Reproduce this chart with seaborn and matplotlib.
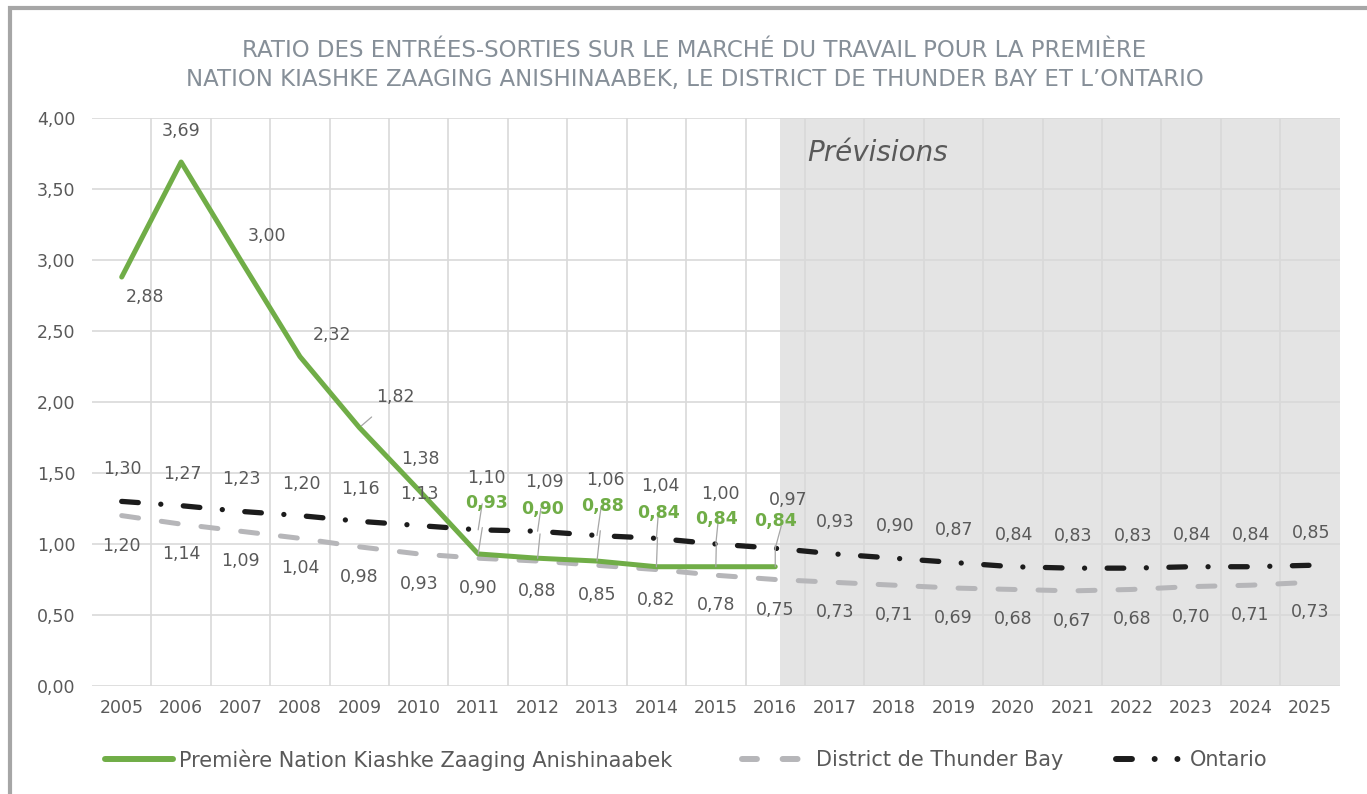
import matplotlib
matplotlib.use('Agg')
import matplotlib.pyplot as plt
import matplotlib.patches as mpatches
from matplotlib.lines import Line2D
from matplotlib.ticker import FuncFormatter, MultipleLocator
import seaborn as sns
import pandas as pd

# Données
years = list(range(2005, 2026))
kza = [2.88, 3.69, 3.00, 2.32, 1.82, 1.38, 0.93, 0.90, 0.88, 0.84, 0.84, 0.84]
thunder_bay = [1.20, 1.14, 1.09, 1.04, 0.98, 0.93, 0.90, 0.88, 0.85, 0.82, 0.78,
               0.75, 0.73, 0.71, 0.69, 0.68, 0.67, 0.68, 0.70, 0.71, 0.73]
ontario = [1.30, 1.27, 1.23, 1.20, 1.16, 1.13, 1.10, 1.09, 1.06, 1.04, 1.00,
           0.97, 0.93, 0.90, 0.87, 0.84, 0.83, 0.83, 0.84, 0.84, 0.85]
forecast_label_year = 2016

# Décalages des étiquettes (pixels)
kza_offsets = [(23, -20), (0, 31), (26, 24), (32, 22), (36, 31), (2, 31),
               (8, 51), (5, 49), (6, 55), (2, 54), (1, 48), (0, 46)]
ont_offsets = {2011: (8, 52), 2012: (7, 49), 2013: (8, 55), 2014: (4, 52),
               2015: (5, 50), 2016: (13, 48)}

GREEN = '#70AD47'
GRAY = '#b6b6b9'
BLACK = '#1c1c1c'
TXT = '#595959'

sns.set_style('white')
plt.rcParams['font.family'] = ['DejaVu Sans']

fig = plt.figure(figsize=(13.67, 7.94), dpi=100)
ax = fig.add_axes([0.0673, 0.136, 0.9127, 0.7154])

xi = [y - years[0] for y in years]
df_k = pd.DataFrame({'x': xi[:len(kza)], 'v': kza})
df_t = pd.DataFrame({'x': xi, 'v': thunder_bay})
df_o = pd.DataFrame({'x': xi, 'v': ontario})

# zone des prévisions
ax.axvspan(forecast_label_year - years[0] + 0.08, xi[-1] + 0.5, color='#e4e4e4', zorder=0, lw=0)

sns.lineplot(data=df_t, x='x', y='v', ax=ax, color=GRAY, lw=3.6,
             linestyle=(0, (3.4, 4.6)), dash_capstyle='round', zorder=3)
sns.lineplot(data=df_o, x='x', y='v', ax=ax, color=BLACK, lw=3.8,
             linestyle=(0, (3.15, 4.27, 0.01, 4.27)), dash_capstyle='round', zorder=4)
sns.lineplot(data=df_k, x='x', y='v', ax=ax, color=GREEN, lw=3.6, zorder=5)

ax.set_xlim(-0.5, xi[-1] + 0.5)
ax.set_ylim(0, 4)
ax.yaxis.set_major_locator(MultipleLocator(0.5))
ax.yaxis.set_major_formatter(FuncFormatter(lambda v, p: f'{v:.2f}'.replace('.', ',')))
ax.set_xticks(xi)
ax.set_xticklabels([str(y) for y in years])
ax.set_xticks([i + 0.5 for i in xi[:-1]], minor=True)
ax.grid(True, axis='y', which='major', color='#d9d9d9', lw=1.2)
ax.grid(True, axis='x', which='minor', color='#d9d9d9', lw=1.2)
ax.set_axisbelow(True)
for s in ax.spines.values():
    s.set_visible(False)
ax.tick_params(axis='both', which='both', length=0, labelsize=12.5, colors=TXT)
ax.tick_params(axis='x', pad=9)
ax.tick_params(axis='y', pad=12)
ax.set_xlabel('')
ax.set_ylabel('')


def fmt(v):
    return f'{v:.2f}'.replace('.', ',')


lab_kw = dict(textcoords='offset pixels', ha='center', va='center',
              fontsize=12.5, color=TXT, zorder=6)
leader = dict(arrowstyle='-', color='#a6a6a6', lw=0.9)

for i, v in enumerate(thunder_bay):
    ax.annotate(fmt(v), (xi[i], v), xytext=(0, -30), **lab_kw)

for i, v in enumerate(ontario):
    off = ont_offsets.get(years[i], (1, 32))
    if years[i] in ont_offsets:
        ax.annotate(fmt(v), (xi[i], v), xytext=off, **lab_kw,
                    arrowprops=dict(leader, shrinkA=10, shrinkB=33))
    else:
        ax.annotate(fmt(v), (xi[i], v), xytext=off, **lab_kw)

for i, v in enumerate(kza):
    dx, dy = kza_offsets[i]
    if years[i] >= 2011:
        ax.annotate(fmt(v), (xi[i], v), xytext=(dx, dy), textcoords='offset pixels',
                    ha='center', va='center', fontsize=12.5, color=GREEN,
                    fontweight='bold', zorder=6,
                    arrowprops=dict(leader, shrinkA=9, shrinkB=0))
    elif years[i] == 2009:
        ax.annotate(fmt(v), (xi[i], v), xytext=(dx, dy), **lab_kw,
                    arrowprops=dict(leader, shrinkA=9, shrinkB=2))
    else:
        ax.annotate(fmt(v), (xi[i], v), xytext=(dx, dy), **lab_kw)

ax.text(forecast_label_year - years[0] + 0.54, 3.75, 'Prévisions', fontsize=20,
        style='italic', color=TXT, ha='left', va='center')

fig.text(0.508, 0.918, 'RATIO DES ENTRÉES-SORTIES SUR LE MARCHÉ DU TRAVAIL POUR LA PREMIÈRE\n'
         'NATION KIASHKE ZAAGING ANISHINAABEK, LE DISTRICT DE THUNDER BAY ET L\u2019ONTARIO',
         ha='center', va='center', fontsize=16.5, color='#868f98', linespacing=1.3)

# Légendes
handles = [
    (Line2D([], [], color=GREEN, lw=4.3, solid_capstyle='round'),
     'Première Nation Kiashke Zaaging Anishinaabek', 0.063),
    (Line2D([], [], color=GRAY, lw=4.3, linestyle=(0, (2.5, 4.3)), dash_capstyle='round'),
     'District de Thunder Bay', 0.529),
    (Line2D([], [], color=BLACK, lw=4.3, linestyle=(0, (2.67, 3.8, 0.01, 3.8, 0.01, 3.8)),
            dash_capstyle='round'), 'Ontario', 0.8025),
]
for h, lab, xpos in handles:
    fig.legend([h], [lab], loc='center left', bbox_to_anchor=(xpos, 0.043),
               frameon=False, fontsize=15, handlelength=3.27, handletextpad=0.3,
               labelcolor=TXT)

border = mpatches.Rectangle((10 / 1367, -0.1), 1.2, 1.1 - 8 / 794, transform=fig.transFigure,
                            fill=False, edgecolor='#a6a6a6', lw=3, clip_on=False)
fig.patches.append(border)

fig.savefig('out.png', dpi=100)
